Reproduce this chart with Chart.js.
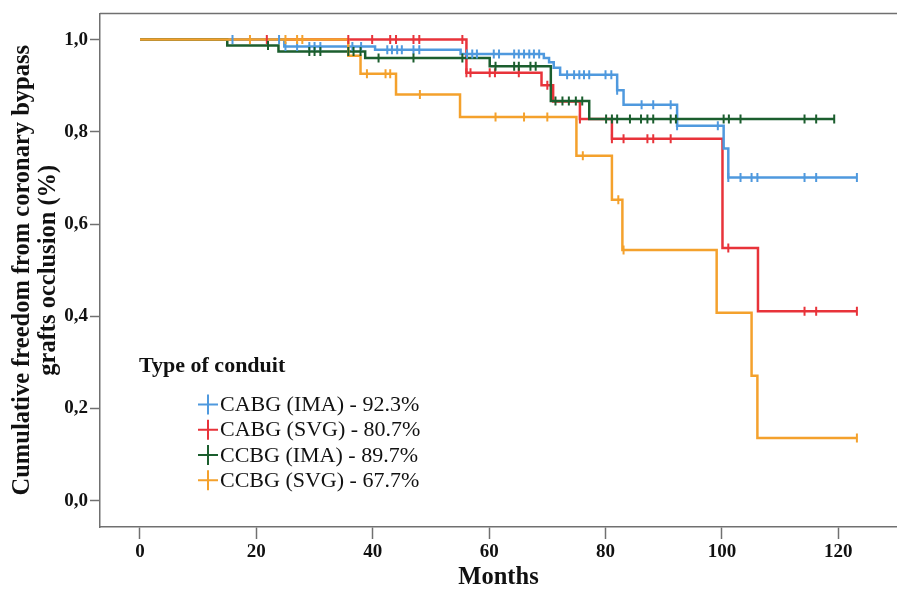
<!DOCTYPE html>
<html>
<head>
<meta charset="utf-8">
<script src="https://cdn.jsdelivr.net/npm/chart.js@4/dist/chart.umd.min.js"></script>
<style>
  html, body { margin: 0; padding: 0; background: #fff; overflow: hidden; }
  #wrap { width: 897px; height: 590px; position: relative; }
  canvas { display: block; }
</style>
</head>
<body>
<div id="wrap"><canvas id="kmChart"></canvas></div>
<script>
// tick labels
const xTicks = [0, 20, 40, 60, 80, 100, 120];
const yTicks = [0, 0.2, 0.4, 0.6, 0.8, 1.0];

const legendTitle = 'Type of conduit';
const seriesNames = ['CABG (IMA) - 92.3%', 'CABG (SVG) - 80.7%', 'CCBG (IMA) - 89.7%', 'CCBG (SVG) - 67.7%'];
const seriesColors = ['#4f99de', '#e8333a', '#1b5e2e', '#f4a12c'];

// CABG (IMA): step times (months), survival after the step, censored times
const cabgImaTimes = [0, 24.8, 40.4, 55.1, 69.4, 70.3, 71.1, 72.2, 82.0, 83.1, 92.3, 100.3, 101.1, 123.2];
const cabgImaSurv  = [1.000, 0.985, 0.978, 0.969, 0.960, 0.951, 0.939, 0.924, 0.890, 0.859, 0.813, 0.764, 0.701, 0.701];
const cabgImaCens  = [15.9, 23.9, 25.0, 27.0, 29.1, 30.0, 31.0, 36.5, 38.0, 42.5, 43.3, 44.2, 45.0, 47.0, 48.0,
  56.2, 57.1, 57.9, 60.8, 61.7, 64.3, 65.1, 66.0, 66.9, 67.7, 68.6, 73.4, 74.6, 75.5, 76.3, 77.2, 80.0, 81.0,
  82.0, 86.2, 88.2, 91.2, 92.3, 99.3, 101.1, 103.2, 105.1, 106.1, 114.2, 116.2, 123.2];

// CABG (SVG)
const cabgSvgTimes = [0, 56.1, 69.0, 71.0, 75.6, 81.1, 100.1, 106.2, 123.2];
const cabgSvgSurv  = [1.000, 0.928, 0.901, 0.866, 0.828, 0.785, 0.548, 0.411, 0.411];
const cabgSvgCens  = [21.8, 35.8, 39.9, 43.0, 44.0, 47.0, 48.0, 55.4, 56.1, 56.8, 60.1, 61.0, 65.1, 70.0,
  75.6, 81.1, 83.1, 87.2, 88.2, 91.2, 101.1, 114.2, 116.2, 123.2];

// CCBG (IMA)
const ccbgImaTimes = [0, 15.0, 23.8, 38.7, 60.1, 70.6, 77.2, 119.3];
const ccbgImaSurv  = [1.000, 0.987, 0.974, 0.960, 0.942, 0.867, 0.828, 0.828];
const ccbgImaCens  = [22.0, 29.1, 30.0, 31.0, 35.8, 36.7, 37.9, 41.0, 47.0, 55.4, 61.1, 64.3, 65.1, 67.1, 68.0,
  71.4, 72.6, 73.7, 74.9, 76.0, 80.1, 81.1, 82.0, 84.2, 86.1, 87.2, 88.2, 91.2, 92.1, 100.3, 101.2, 103.2,
  114.2, 116.2, 119.3];

// CCBG (SVG)
const ccbgSvgTimes = [0, 35.8, 37.9, 44.0, 55.0, 75.0, 81.1, 82.9, 99.1, 105.1, 106.1, 123.2];
const ccbgSvgSurv  = [1.000, 0.965, 0.926, 0.881, 0.832, 0.748, 0.653, 0.544, 0.408, 0.271, 0.136, 0.136];
const ccbgSvgCens  = [18.9, 25.0, 27.0, 27.9, 39.0, 42.2, 43.0, 48.1, 61.1, 66.0, 70.0, 76.1, 82.2, 83.1, 123.2];

const series = [
  [cabgImaTimes, cabgImaSurv, cabgImaCens],
  [cabgSvgTimes, cabgSvgSurv, cabgSvgCens],
  [ccbgImaTimes, ccbgImaSurv, ccbgImaCens],
  [ccbgSvgTimes, ccbgSvgSurv, ccbgSvgCens]
];
// which curve lies on top (lower = drawn later)
const drawOrder = [3, 4, 2, 1];

// survival level of a curve at time t (last step at or before t)
function levelAt(times, surv, t) {
  let v = surv[0];
  for (let i = 0; i < times.length; i++) if (times[i] <= t) v = surv[i];
  return v;
}

const datasets = [];
series.forEach(([times, surv, cens], i) => {
  datasets.push({
    label: seriesNames[i],
    data: times.map((t, k) => ({x: t, y: surv[k]})),
    borderColor: seriesColors[i],
    borderWidth: 2.5,
    stepped: true,
    pointRadius: 0,
    fill: false,
    order: drawOrder[i] + 4
  });
  datasets.push({
    label: seriesNames[i] + ' censored',
    data: cens.map(t => ({x: t, y: levelAt(times, surv, t)})),
    showLine: false,
    pointStyle: 'line',
    rotation: 90,
    pointRadius: 4.5,
    pointBorderWidth: 2,
    borderColor: seriesColors[i],
    pointBorderColor: seriesColors[i],
    order: drawOrder[i]
  });
});

const serif = 'Liberation Serif';

const topFrame = {
  id: 'topFrame',
  afterDraw(chart) {
    const {ctx, chartArea: a} = chart;
    ctx.save();
    ctx.strokeStyle = '#707070';
    ctx.lineWidth = 1.5;
    ctx.beginPath();
    ctx.moveTo(a.left, a.top);
    ctx.lineTo(a.right, a.top);
    ctx.stroke();
    ctx.restore();
  }
};

const kmLegend = {
  id: 'kmLegend',
  afterDraw(chart) {
    const {ctx, chartArea: a} = chart;
    ctx.save();
    ctx.fillStyle = '#111';
    ctx.textBaseline = 'middle';
    ctx.font = 'bold 22px "' + serif + '"';
    ctx.fillText(legendTitle, a.left + 39, a.top + 353);
    ctx.font = '22px "' + serif + '"';
    seriesNames.forEach((name, i) => {
      const y = a.top + 391 + i * 25.3;
      const cx = a.left + 108;
      ctx.strokeStyle = seriesColors[i];
      ctx.lineWidth = 2;
      ctx.beginPath();
      ctx.moveTo(cx - 10, y); ctx.lineTo(cx + 10, y);
      ctx.moveTo(cx, y - 10); ctx.lineTo(cx, y + 10);
      ctx.stroke();
      ctx.fillText(name, a.left + 120, y + 1);
    });
    ctx.restore();
  }
};

new Chart(document.getElementById('kmChart'), {
  type: 'line',
  data: { datasets: datasets },
  options: {
    responsive: true,
    maintainAspectRatio: false,
    animation: false,
    layout: { autoPadding: false, padding: { top: 11, left: 0, right: 0, bottom: 0 } },
    plugins: {
      legend: { display: false },
      tooltip: { enabled: false }
    },
    scales: {
      x: {
        type: 'linear',
        min: -6.87,
        max: 130.09,
        afterBuildTicks: s => { s.ticks = xTicks.map(v => ({value: v})); },
        afterFit: s => { s.height = 63; },
        grid: { drawOnChartArea: false, drawTicks: true, tickLength: 12, tickColor: '#707070', tickWidth: 1.5 },
        border: { display: true, color: '#707070', width: 1.5 },
        ticks: { color: '#111', padding: 2, maxRotation: 0, font: { family: serif, size: 19, weight: 'bold' } },
        title: {
          display: true, text: 'Months', color: '#111',
          padding: 0,
          font: { family: serif, size: 24.5, weight: 'bold', lineHeight: 1 }
        }
      },
      y: {
        min: -0.0568,
        max: 1.0568,
        afterBuildTicks: s => { s.ticks = yTicks.map(v => ({value: v})); },
        afterFit: s => { s.width = 100; },
        grid: { drawOnChartArea: false, drawTicks: true, tickLength: 10, tickColor: '#707070', tickWidth: 1.5 },
        border: { display: true, color: '#707070', width: 1.5 },
        ticks: {
          color: '#111', padding: 2,
          font: { family: serif, size: 19, weight: 'bold' },
          callback: v => v.toFixed(1).replace('.', ',')
        },
        title: {
          display: true,
          text: ['Cumulative freedom from coronary bypass', 'grafts occlusion (%)'],
          color: '#111',
          padding: { top: 10, bottom: 0 },
          font: { family: serif, size: 24.5, weight: 'bold', lineHeight: 1.04 }
        }
      }
    }
  },
  plugins: [topFrame, kmLegend]
});
</script>
</body>
</html>
